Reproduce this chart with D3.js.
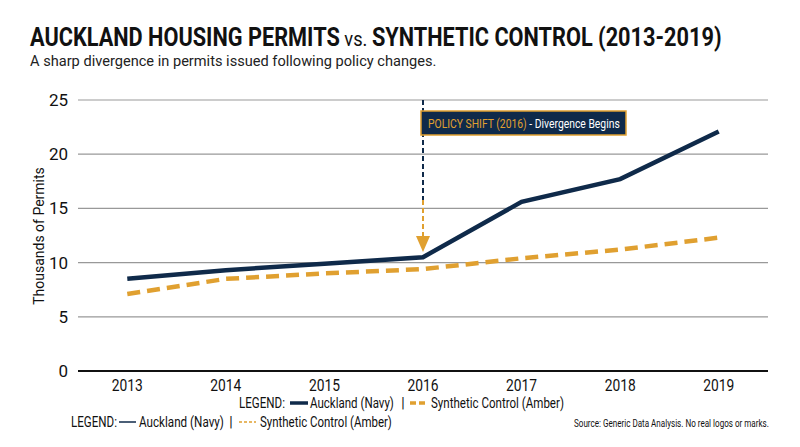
<!DOCTYPE html>
<html><head><meta charset="utf-8">
<script src="https://cdn.jsdelivr.net/npm/d3@7"></script>
<style>
body{margin:0;background:#fff}
text{font-family:"Roboto",sans-serif}
</style></head>
<body><svg id="c" width="800" height="447"></svg>
<script>
const years = ["2013","2014","2015","2016","2017","2018","2019"];
const auckland = [8.5, 9.3, 9.9, 10.5, 15.6, 17.7, 22.1];
const synthetic = [7.1, 8.5, 9.0, 9.4, 10.4, 11.2, 12.3];
const yTicks = [0, 5, 10, 15, 20, 25];

const navy = "#0f2a4a", amber = "#e0a030";
const svg = d3.select("#c");
const x = d3.scalePoint().domain(years).range([78, 768]).padding(0.5);
const y = d3.scaleLinear().domain([0, 25]).range([371, 100]);

// squeeze a text horizontally so it spans [x0, x0+w] (reference uses a condensed face)
function fit(sel, x0, w) {
  const bb = sel.node().getBBox();
  const k = w / bb.width;
  sel.attr("x", 0).attr("transform", `translate(${x0},0) scale(${k},1)`);
}

// title
const t = svg.append("text").attr("y", 46).attr("font-size", 25).attr("font-weight", "bold").attr("fill", "#111");
t.append("tspan").text("AUCKLAND HOUSING PERMITS");
t.append("tspan").attr("font-weight", "normal").attr("font-size", 21).text(" vs. ");
t.append("tspan").text("SYNTHETIC CONTROL (2013-2019)");
fit(t, 30, 692);
svg.append("text").attr("x", 30).attr("y", 66).attr("font-size", 14.6).attr("fill", "#222")
  .text("A sharp divergence in permits issued following policy changes.");

// grid
svg.append("g").selectAll("line").data(yTicks.filter(d => d > 0)).join("line")
  .attr("x1", 78).attr("x2", 768).attr("y1", d => y(d)).attr("y2", d => y(d))
  .attr("stroke", "#999").attr("stroke-width", 1.2);
svg.append("line").attr("x1", 78).attr("x2", 768).attr("y1", y(0)).attr("y2", y(0)).attr("stroke", "#111").attr("stroke-width", 2);

svg.append("g").selectAll("text").data(yTicks).join("text")
  .attr("x", 68).attr("y", d => y(d) + 6).attr("text-anchor", "end").attr("font-size", 17).attr("fill", "#111").text(d => d);
svg.append("g").selectAll("text").data(years).join("text")
  .attr("x", d => x(d)).attr("y", 391).attr("text-anchor", "middle").attr("font-size", 17)
  .attr("textLength", 31).attr("lengthAdjust", "spacingAndGlyphs").attr("fill", "#111").text(d => d);
svg.append("text").attr("transform", "translate(44,236) rotate(-90)").attr("text-anchor", "middle")
  .attr("font-size", 14).attr("fill", "#111").text("Thousands of Permits");

// annotation
const ax = x("2016");
svg.append("line").attr("x1", ax).attr("x2", ax).attr("y1", 100).attr("y2", 200)
  .attr("stroke", navy).attr("stroke-width", 2).attr("stroke-dasharray", "5,3");
svg.append("line").attr("x1", ax).attr("x2", ax).attr("y1", 200).attr("y2", 240)
  .attr("stroke", amber).attr("stroke-width", 2).attr("stroke-dasharray", "5,3");
svg.append("path").attr("d", `M${ax - 7},236 L${ax + 7},236 L${ax},252 Z`).attr("fill", amber);
svg.append("rect").attr("x", 421).attr("y", 111).attr("width", 205).attr("height", 24)
  .attr("fill", navy).attr("stroke", amber).attr("stroke-width", 1.5);
const at = svg.append("text").attr("y", 128).attr("font-size", 13);
at.append("tspan").attr("fill", amber).text("POLICY SHIFT (2016)");
at.append("tspan").attr("fill", "#fff").text(" - Divergence Begins");
fit(at, 428, 192);

// lines
const line = d3.line().x((d, i) => x(years[i])).y(d => y(d));
svg.append("path").datum(synthetic).attr("d", line).attr("fill", "none")
  .attr("stroke", amber).attr("stroke-width", 4.5).attr("stroke-dasharray", "13,7");
svg.append("path").datum(auckland).attr("d", line).attr("fill", "none")
  .attr("stroke", navy).attr("stroke-width", 4.5);

// legends: positions [LEGEND:, line, Auckland, |, dash, Synthetic]
function legend(p, yy, sw, dash) {
  const g = svg.append("g");
  const txt = (x0, w, s) => fit(g.append("text").attr("y", yy).attr("font-size", 14).attr("fill", "#111").text(s), x0, w);
  txt(p[0], p[1] - p[0], "LEGEND:");
  g.append("line").attr("x1", p[2]).attr("x2", p[3]).attr("y1", yy - 5).attr("y2", yy - 5).attr("stroke", navy).attr("stroke-width", sw);
  txt(p[4], p[5] - p[4], "Auckland (Navy)");
  g.append("text").attr("x", p[6]).attr("y", yy).attr("font-size", 14).attr("fill", "#111").attr("text-anchor", "middle").text("|");
  g.append("line").attr("x1", p[7]).attr("x2", p[8]).attr("y1", yy - 5).attr("y2", yy - 5).attr("stroke", amber).attr("stroke-width", sw).attr("stroke-dasharray", dash);
  txt(p[9], p[10] - p[9], "Synthetic Control (Amber)");
}
legend([239, 285, 290, 308, 310, 394, 403, 410, 427, 431, 564], 408, 3.5, "6,3");
legend([71, 117, 119, 136, 139, 224, 231, 239, 256, 260, 392], 427, 1.5, "3,2");
fit(svg.append("text").attr("y", 427).attr("font-size", 10.5).attr("fill", "#111")
  .text("Source: Generic Data Analysis. No real logos or marks."), 574, 195);
</script></body></html>
